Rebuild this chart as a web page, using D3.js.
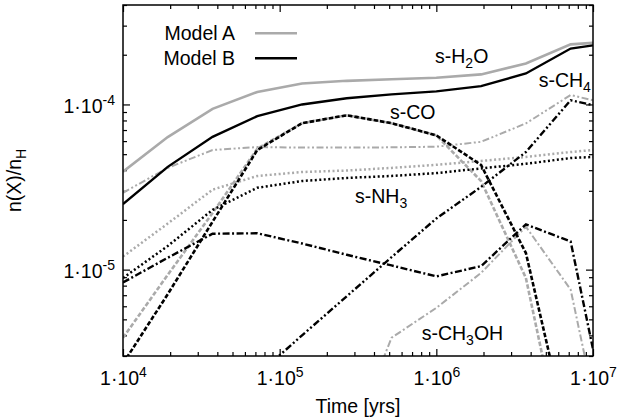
<!DOCTYPE html>
<html>
<head>
<meta charset="utf-8">
<script src="https://cdn.jsdelivr.net/npm/d3@7"></script>
<style>
  body { margin: 0; background: #fff; }
  text { font-family: "Liberation Sans", Arial, Helvetica, sans-serif; fill: #000; }
</style>
</head>
<body>
<div id="chart"></div>
<script>
// time grid [yrs]
var times = [1e4, 1.93e4, 3.73e4, 7.2e4, 1.39e5, 2.68e5, 5.18e5, 1e6, 1.93e6, 3.73e6, 7.2e6, 1e7]

// Model A (grey)
var h2o_A   = [3.92e-5, 6.35e-5, 9.4e-5, 1.19e-4, 1.34e-4, 1.39e-4, 1.42e-4, 1.45e-4, 1.52e-4, 1.77e-4, 2.31e-4, 2.36e-4]
var co_A    = [3.87e-6, 9.3e-6, 2.2e-5, 5.4e-5, 7.7e-5, 8.6e-5, 7.7e-5, 6.5e-5, 3.44e-5, 8.9e-6, 4.7e-7, 1.5e-7]
var ch4_A   = [2.92e-5, 4.13e-5, 5.3e-5, 5.52e-5, 5.48e-5, 5.48e-5, 5.5e-5, 5.55e-5, 5.94e-5, 7.68e-5, 1.14e-4, 1.06e-4]
var nh3_A   = [1.2e-5, 1.9e-5, 3.05e-5, 3.69e-5, 3.9e-5, 3.98e-5, 4.13e-5, 4.31e-5, 4.55e-5, 4.81e-5, 5.15e-5, 5.3e-5]
var ch3oh_A = [1e-7, 1.2e-7, 1.5e-7, 2e-7, 3e-7, 8e-7, 3.87e-6, 5.87e-6, 9.55e-6, 1.82e-5, 7.57e-6, 1.74e-6]

// Model B (black)
var h2o_B   = [2.49e-5, 4.19e-5, 6.37e-5, 8.5e-5, 1.0e-4, 1.09e-4, 1.15e-4, 1.2e-4, 1.29e-4, 1.54e-4, 2.18e-4, 2.28e-4]
var co_B    = [2.7e-6, 7.1e-6, 1.95e-5, 5.3e-5, 7.7e-5, 8.6e-5, 7.7e-5, 6.5e-5, 4.3e-5, 1.26e-5, 8.5e-7, 2e-7]
var ch4_B   = [4e-7, 7e-7, 1.3e-6, 2.3e-6, 4.0e-6, 6.9e-6, 1.19e-5, 2.04e-5, 3.17e-5, 5.15e-5, 1.06e-4, 9.9e-5]
var nh3_B   = [8.9e-6, 1.39e-5, 2.3e-5, 3.13e-5, 3.44e-5, 3.59e-5, 3.69e-5, 3.84e-5, 4.1e-5, 4.37e-5, 4.74e-5, 4.81e-5]
var ch3oh_B = [8.36e-6, 1.18e-5, 1.65e-5, 1.66e-5, 1.44e-5, 1.23e-5, 1.06e-5, 9.1e-6, 1.05e-5, 1.88e-5, 1.48e-5, 3.3e-6]

var xMajor = [1e4, 1e5, 1e6, 1e7]
var xExp = ["4", "5", "6", "7"]
var yMajor = [1e-5, 1e-4]
var yExp = ["-5", "-4"]
var legendNames = ["Model A", "Model B"]

var grey = "#aaaaaa"

var margin = { top: 5, left: 123, right: 27, bottom: 64 },
    width = 620 - margin.left - margin.right,
    height = 420 - margin.top - margin.bottom;

var svg = d3.select("#chart")
    .append("svg")
    .attr("width", 620)
    .attr("height", 420)
    .append("g")
    .attr("transform", "translate(" + margin.left + "," + margin.top + ")");

var x = d3.scaleLog().domain([1e4, 1e7]).range([0, width])
var y = d3.scaleLog().domain([3e-6, 4e-4]).range([height, 0])

// minor tick values
var xMinor = []
for (var e = 4; e < 7; e++) for (var m = 2; m <= 9; m++) xMinor.push(m * Math.pow(10, e))
var yMinor = []
for (var e = -6; e < -3; e++) for (var m = 2; m <= 9; m++) {
    var v = m * Math.pow(10, e)
    if (v >= 3e-6 && v <= 4e-4) yMinor.push(v)
}

function powLabel(sel, exps) {
    sel.each(function(d, i) {
        var t = d3.select(this).text(null)
        t.append("tspan").text("1·10")
        t.append("tspan").attr("dy", -8).style("font-size", "14px").text(exps[i])
    })
}

function drawAxis(axis, transform) {
    var g = svg.append("g").attr("transform", transform).call(axis)
    g.select(".domain").remove()
    g.selectAll("line").attr("stroke", "#000").attr("stroke-width", 1.2)
    return g
}

// ticks on all four sides, pointing inward
var bottom = drawAxis(d3.axisBottom(x).tickValues(xMajor).tickSize(-7), "translate(0," + height + ")")
drawAxis(d3.axisBottom(x).tickValues(xMinor).tickSize(-4).tickFormat(""), "translate(0," + height + ")")
drawAxis(d3.axisTop(x).tickValues(xMajor).tickSize(-7).tickFormat(""), "translate(0,0)")
drawAxis(d3.axisTop(x).tickValues(xMinor).tickSize(-4).tickFormat(""), "translate(0,0)")
var left = drawAxis(d3.axisLeft(y).tickValues(yMajor).tickSize(-7), "translate(0,0)")
drawAxis(d3.axisLeft(y).tickValues(yMinor).tickSize(-4).tickFormat(""), "translate(0,0)")
drawAxis(d3.axisRight(y).tickValues(yMajor).tickSize(-7).tickFormat(""), "translate(" + width + ",0)")
drawAxis(d3.axisRight(y).tickValues(yMinor).tickSize(-4).tickFormat(""), "translate(" + width + ",0)")

bottom.selectAll("text")
    .attr("y", 29).attr("dy", null)
    .style("font-size", "19.5px")
    .call(powLabel, xExp)

left.selectAll("text")
    .attr("x", -8).attr("dy", null).attr("y", 8)
    .style("font-size", "19.5px")
    .call(powLabel, yExp)

// clip the curves to the plotting box
svg.append("clipPath").attr("id", "clip")
    .append("rect").attr("width", width).attr("height", height)

var line = d3.line()
    .x((d, i) => x(times[i]))
    .y((d) => y(d))

var series = [
    { v: h2o_A,   c: grey,   w: 2.6, dash: null },
    { v: ch4_A,   c: grey,   w: 2,   dash: "7,2.5,2,2.5,2,2.5" },
    { v: nh3_A,   c: grey,   w: 2.5, dash: "2,2.5" },
    { v: co_A,    c: grey,   w: 2.6, dash: "4.5,2" },
    { v: ch3oh_A, c: grey,   w: 2,   dash: "7,2.5,2,2.5" },
    { v: h2o_B,   c: "#000", w: 2.4, dash: null },
    { v: ch4_B,   c: "#000", w: 2.4, dash: "7,2.5,2,2.5,2,2.5" },
    { v: nh3_B,   c: "#000", w: 2.5, dash: "2,2.5" },
    { v: co_B,    c: "#000", w: 2.6, dash: "4.5,2" },
    { v: ch3oh_B, c: "#000", w: 2.4, dash: "7,2.5,2,2.5" }
]

svg.append("g").attr("clip-path", "url(#clip)")
    .selectAll(".curve")
    .data(series)
    .enter().append("path")
    .attr("class", "curve")
    .attr("d", (d) => line(d.v))
    .attr("fill", "none")
    .attr("stroke", (d) => d.c)
    .attr("stroke-width", (d) => d.w)
    .attr("stroke-dasharray", (d) => d.dash)
    .attr("stroke-linejoin", "miter")

// frame
svg.append("rect")
    .attr("width", width).attr("height", height)
    .attr("fill", "none").attr("stroke", "#000").attr("stroke-width", 1.5)

// legend
var legend = svg.selectAll(".legend")
    .data(legendNames)
    .enter().append("g")
    .attr("class", "legend")
    .attr("transform", (d, i) => "translate(0," + (28.3 + i * 25) + ")")

legend.append("text")
    .attr("x", 112).attr("y", 6.5)
    .attr("text-anchor", "end")
    .style("font-size", "19.5px")
    .text((d) => d)

legend.append("line")
    .attr("x1", 132).attr("x2", 174)
    .attr("stroke", (d, i) => i == 0 ? grey : "#000")
    .attr("stroke-width", (d, i) => i == 0 ? 2.6 : 2.4)

// species labels with subscripts
var labels = [
    { x: 312, y: 58, parts: [["s-H"], ["2", 1], ["O"]] },
    { x: 415.7, y: 82, parts: [["s-CH"], ["4", 1]] },
    { x: 267, y: 114, parts: [["s-CO"]] },
    { x: 232, y: 198, parts: [["s-NH"], ["3", 1]] },
    { x: 298.7, y: 335, parts: [["s-CH"], ["3", 1], ["OH"]] }
]

labels.forEach(function(l) {
    var t = svg.append("text").attr("x", l.x).attr("y", l.y).style("font-size", "19.5px")
    var shift = 0
    l.parts.forEach(function(p) {
        var ts = t.append("tspan").text(p[0])
        if (p[1]) { ts.attr("dy", 5).style("font-size", "14px"); shift = 5 }
        else if (shift) { ts.attr("dy", -shift); shift = 0 }
    })
})

// axis titles
svg.append("text")
    .attr("x", width / 2).attr("y", height + 57)
    .attr("text-anchor", "middle")
    .style("font-size", "19.5px")
    .text("Time [yrs]")

var yt = svg.append("text")
    .attr("transform", "translate(" + (-102) + "," + (height / 2) + ") rotate(-90)")
    .attr("text-anchor", "middle")
    .style("font-size", "19.5px")
yt.append("tspan").text("n(X)/n")
yt.append("tspan").attr("dy", 5).style("font-size", "14px").text("H")
</script>
</body>
</html>
